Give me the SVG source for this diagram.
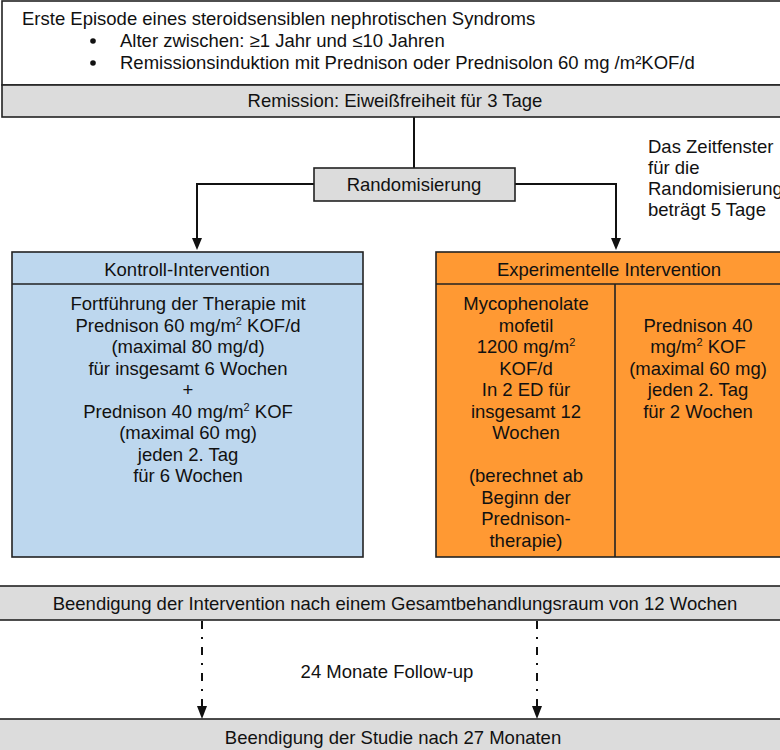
<svg xmlns="http://www.w3.org/2000/svg" width="780" height="750" viewBox="0 0 780 750">
<style>
text{font-family:"Liberation Sans",Arial,sans-serif;font-size:18.5px;fill:#111}
.c{text-anchor:middle}
.box{stroke:#222;stroke-width:1.6}
.gray{fill:#dcdcdc}
.blue{fill:#bdd7ee}
.orange{fill:#ff9933}
.ln{stroke:#111;stroke-width:2;fill:none}
.dd{stroke:#111;stroke-width:2;fill:none;stroke-dasharray:8 8 2 8}
.sup{font-size:11px}
</style>
<defs>
<marker id="ah" markerWidth="10" markerHeight="10" refX="5" refY="10" orient="auto" markerUnits="userSpaceOnUse" viewBox="0 0 10 10">
<path d="M0,0 L10,0 L5,10 Z" fill="#111"/>
</marker>
</defs>
<rect width="780" height="750" fill="#fff"/>

<g id="connectors">
<line class="ln" x1="414" y1="117" x2="414" y2="168"/>
<path class="ln" d="M314,184 H197 V238"/>
<path class="ln" d="M515,184 H616 V238"/>
<polygon points="192,238 202,238 197,250" fill="#111"/>
<polygon points="611,238 621,238 616,250" fill="#111"/>
<line class="dd" x1="202" y1="621" x2="202" y2="706"/>
<line class="dd" x1="537" y1="621" x2="537" y2="706"/>
<polygon points="197,706 207,706 202,719" fill="#111"/>
<polygon points="532,706 542,706 537,719" fill="#111"/>
</g>

<g id="node-episode">
<rect class="box" x="2" y="1" width="790" height="84" fill="#fff"/>
<text x="22" y="25">Erste Episode eines steroidsensiblen nephrotischen Syndroms</text>
<circle cx="93" cy="41" r="2.8" fill="#111"/>
<text x="120" y="47">Alter zwischen: ≥1 Jahr und ≤10 Jahren</text>
<circle cx="93" cy="63" r="2.8" fill="#111"/>
<text x="120" y="69">Remissionsinduktion mit Prednison oder Prednisolon 60 mg /m²KOF/d</text>
</g>

<g id="node-remission">
<rect class="box gray" x="2" y="85" width="790" height="32"/>
<text class="c" x="395" y="107">Remission: Eiweißfreiheit für 3 Tage</text>
</g>

<g id="node-randomisierung">
<rect class="box gray" x="314" y="168" width="201" height="33"/>
<text class="c" x="414" y="191">Randomisierung</text>
</g>

<g id="note-zeitfenster">
<text x="648" y="153">Das Zeitfenster</text>
<text x="648" y="174">für die</text>
<text x="648" y="195">Randomisierung</text>
<text x="648" y="216">beträgt 5 Tage</text>
</g>

<g id="node-kontroll">
<rect class="box blue" x="12" y="252" width="351" height="305"/>
<line class="box" x1="12" y1="284" x2="363" y2="284"/>
<text class="c" x="187" y="276">Kontroll-Intervention</text>
<text class="c" x="188" y="310">Fortführung der Therapie mit</text>
<text class="c" x="188" y="331.5">Prednison 60 mg/m<tspan class="sup" dy="-7">2</tspan><tspan dy="7"> KOF/d</tspan></text>
<text class="c" x="188" y="353">(maximal 80 mg/d)</text>
<text class="c" x="188" y="374.5">für insgesamt 6 Wochen</text>
<text class="c" x="188" y="396">+</text>
<text class="c" x="188" y="417.5">Prednison 40 mg/m<tspan class="sup" dy="-7">2</tspan><tspan dy="7"> KOF</tspan></text>
<text class="c" x="188" y="439">(maximal 60 mg)</text>
<text class="c" x="188" y="460.5">jeden 2. Tag</text>
<text class="c" x="188" y="482">für 6 Wochen</text>
</g>

<g id="node-experimentell">
<rect class="box orange" x="436" y="252" width="356" height="305"/>
<line class="box" x1="436" y1="284" x2="792" y2="284"/>
<line class="box" x1="615" y1="284" x2="615" y2="557"/>
<text class="c" x="609" y="276">Experimentelle Intervention</text>
<text class="c" x="526" y="310">Mycophenolate</text>
<text class="c" x="526" y="331.5">mofetil</text>
<text class="c" x="526" y="353">1200 mg/m<tspan class="sup" dy="-7">2</tspan></text>
<text class="c" x="526" y="374.5">KOF/d</text>
<text class="c" x="526" y="396">In 2 ED für</text>
<text class="c" x="526" y="417.5">insgesamt 12</text>
<text class="c" x="526" y="439">Wochen</text>
<text class="c" x="526" y="482">(berechnet ab</text>
<text class="c" x="526" y="503.5">Beginn der</text>
<text class="c" x="526" y="525">Prednison-</text>
<text class="c" x="526" y="546.5">therapie)</text>
<text class="c" x="698" y="331.5">Prednison 40</text>
<text class="c" x="698" y="353">mg/m<tspan class="sup" dy="-7">2</tspan><tspan dy="7"> KOF</tspan></text>
<text class="c" x="698" y="374.5">(maximal 60 mg)</text>
<text class="c" x="698" y="396">jeden 2. Tag</text>
<text class="c" x="698" y="417.5">für 2 Wochen</text>
</g>

<g id="node-beendigung-intervention">
<rect class="box gray" x="-5" y="586" width="797" height="34"/>
<text class="c" x="395" y="610">Beendigung der Intervention nach einem Gesamtbehandlungsraum von 12 Wochen</text>
</g>

<text class="c" x="387" y="678">24 Monate Follow-up</text>

<g id="node-beendigung-studie">
<rect class="box gray" x="-5" y="719" width="797" height="40"/>
<text class="c" x="393" y="744">Beendigung der Studie nach 27 Monaten</text>
</g>
</svg>
